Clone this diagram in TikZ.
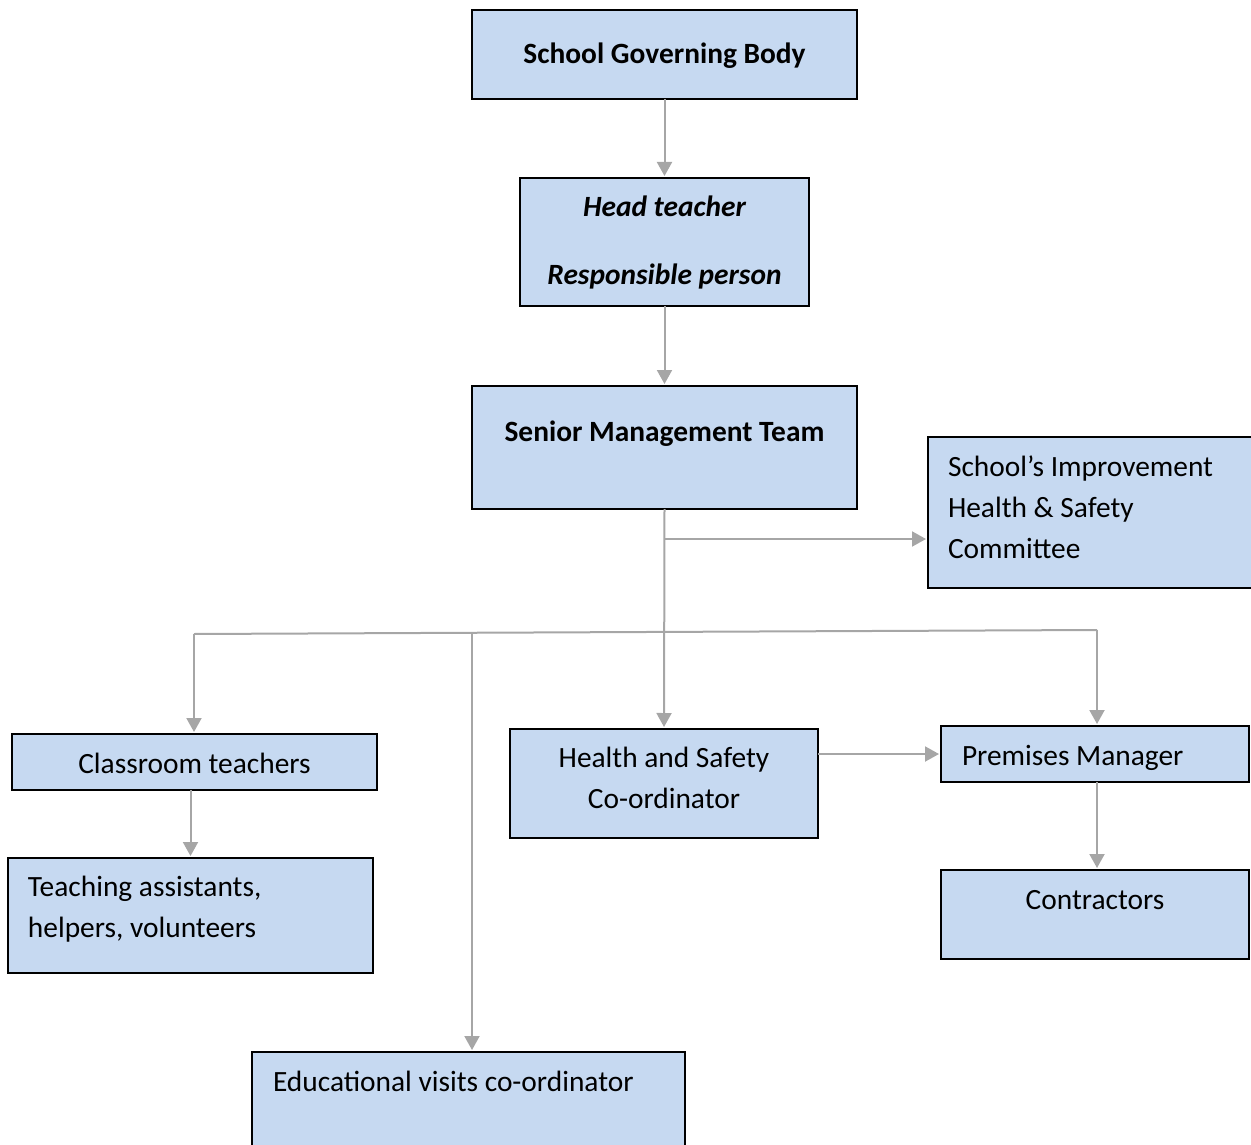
\documentclass[tikz,border=0pt]{standalone}
\usepackage{fontspec}
\setmainfont{Carlito}
\usetikzlibrary{arrows.meta}
\definecolor{boxblue}{RGB}{198,217,241}
\definecolor{linegray}{RGB}{166,166,166}
\newcommand{\boxtxt}[5]{\parbox[c][#2pt][t]{#1pt}{#4\rule{0pt}{#3pt}#5}}
\begin{document}
\begin{tikzpicture}[x=1pt,y=-1pt,
  box/.style={draw=black, line width=2pt, fill=boxblue, inner sep=0pt, outer sep=0pt, anchor=north west, font=\fontsize{29.4}{41}\selectfont},
  conn/.style={draw=linegray, line width=2pt, -{Triangle[width=15pt,length=14pt]}, shorten >=2pt},
  wire/.style={draw=linegray, line width=2pt}]
\useasboundingbox (0,0) rectangle (1251,1145);
\clip (0,0) rectangle (1251,1145);
\node[box] (sgb) at (472,10) {\boxtxt{385}{89}{54}{\centering\bfseries}{School Governing Body}};
\node[box] (head) at (520,178) {\boxtxt{289}{128}{38}{\centering\bfseries\itshape}{Head teacher\\[27pt]Responsible person}};
\node[box] (smt) at (472,386) {\boxtxt{385}{123}{55}{\centering\bfseries}{Senior Management Team}};
\node[box] (sihsc) at (928,437) {\boxtxt{345}{151}{39}{\raggedright\leftskip=20pt\relax}{School’s Improvement\\Health \& Safety\\Committee}};
\node[box] (ct) at (12,734) {\boxtxt{365}{56}{39}{\centering}{Classroom teachers}};
\node[box] (ta) at (8,858) {\boxtxt{365}{115}{38}{\raggedright\leftskip=20pt\relax}{Teaching assistants,\\helpers, volunteers}};
\node[box] (hs) at (510,729) {\boxtxt{308}{109}{38}{\centering}{Health and Safety\\Co-ordinator}};
\node[box] (pm) at (941,726) {\boxtxt{308}{56}{39}{\raggedright\leftskip=21pt\relax}{Premises Manager}};
\node[box] (con) at (941,870) {\boxtxt{308}{89}{39}{\centering}{Contractors}};
\node[box] (ev) at (252,1052) {\boxtxt{433}{120}{39}{\raggedright\leftskip=21pt\relax}{Educational visits co-ordinator}};

\coordinate (b1) at (664,539);
\coordinate (busL) at (194,634);
\coordinate (busE) at (472,633);
\coordinate (busR) at (1097,630);

\draw[conn] (sgb.south) -- (head.north);
\draw[conn] (head.south) -- (smt.north);
\draw[conn] (smt.south) -- (hs.north);
\draw[conn] (b1) -- (b1 -| sihsc.west);
\draw[wire] (busL) -- (busR);
\draw[conn] (busL) -- (busL |- ct.north);
\draw[conn] (busE) -- (busE |- ev.north);
\draw[conn] (busR) -- (busR |- pm.north);
\draw[conn] (ct.south -| ta.north) -- (ta.north);
\draw[conn] (hs.east |- pm.west) -- (pm.west);
\draw[conn] (pm.south -| busR) -- (busR |- con.north);
\end{tikzpicture}
\end{document}
